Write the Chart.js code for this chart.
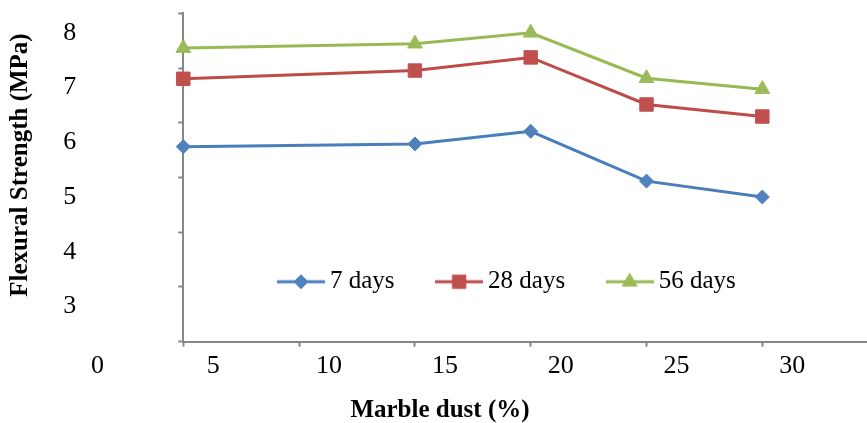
<!DOCTYPE html>
<html>
<head>
<meta charset="utf-8">
<script src="https://cdn.jsdelivr.net/npm/chart.js@4.4.1/dist/chart.umd.min.js"></script>
<style>
  html, body { margin: 0; padding: 0; background: #ffffff; }
  canvas { display: block; }
</style>
</head>
<body>
<canvas id="chart" width="867" height="423"></canvas>
<script>
// ---------- data ----------
const X_VALUES = [5, 15, 20, 25, 30];            // marble dust (%)
const SERIES_NAMES = ['7 days', '28 days', '56 days'];
const DAYS_7  = [5.92, 5.97, 6.20, 5.29, 5.00];
const DAYS_28 = [7.16, 7.31, 7.55, 6.69, 6.47];
const DAYS_56 = [7.72, 7.80, 8.00, 7.17, 6.97];
const X_TICKS = [0, 5, 10, 15, 20, 25, 30];
const Y_TICKS = [2, 3, 4, 5, 6, 7, 8];
const Y_TICK_LABELS = ['', '3', '4', '5', '6', '7', '8'];
const X_TITLE = 'Marble dust (%)';
const Y_TITLE = 'Flexural Strength (MPa)';

// ---------- styling ----------
const FONT = "'Liberation Serif', 'Times New Roman', serif";
const AXIS = '#878787';
const LINE_COLORS = ['#4a7ebb', '#be4b48', '#98b954'];
const MARKER_COLORS = ['#4f81bd', '#c0504d', '#9bbb59'];
const MARKERS = [
  { style: 'rectRot', radius: 7 },
  { style: 'rect', radius: 9.5 },
  { style: 'triangle', radius: 8.5 }
];
const LABEL_SHIFT = 0.356;   // tick marks sit above their labels in the reference

function makeIcon(i) {
  const c = document.createElement('canvas');
  c.width = 48; c.height = 20;
  const g = c.getContext('2d');
  g.strokeStyle = LINE_COLORS[i];
  g.lineWidth = 3;
  g.beginPath(); g.moveTo(0, 10); g.lineTo(48, 10); g.stroke();
  g.fillStyle = MARKER_COLORS[i];
  g.strokeStyle = MARKER_COLORS[i];
  g.lineWidth = 1;
  Chart.helpers.drawPoint(g, { pointStyle: MARKERS[i].style, radius: MARKERS[i].radius, borderWidth: 1, rotation: 0 }, 24, 10);
  return c;
}
const ICONS = [0, 1, 2].map(makeIcon);

const SERIES = [DAYS_7, DAYS_28, DAYS_56];

const placeLegend = {
  id: 'placeLegend',
  afterLayout(chart) {
    const lg = chart.legend;
    if (!lg) return;
    const pad = lg.options.labels.padding;
    const size = lg.options.labels.font.size;
    lg.left = 236.5;
    lg.top = 281.7 - size / 2 - pad;
    lg.right = chart.width;
    lg.bottom = lg.top + 2 * pad + size;
    lg.width = lg.right - lg.left;
    lg.height = lg.bottom - lg.top;
  }
};

new Chart(document.getElementById('chart'), {
  type: 'line',
  data: {
    datasets: SERIES.map((vals, i) => ({
      label: SERIES_NAMES[i],
      data: X_VALUES.map((x, j) => ({ x: x, y: vals[j] })),
      borderColor: LINE_COLORS[i],
      backgroundColor: MARKER_COLORS[i],
      pointBackgroundColor: MARKER_COLORS[i],
      pointBorderColor: MARKER_COLORS[i],
      pointStyle: MARKERS[i].style,
      pointRadius: MARKERS[i].radius,
      pointBorderWidth: 1,
      borderWidth: 3,
      tension: 0,
      fill: false,
      clip: false
    }))
  },
  options: {
    responsive: false,
    animation: false,
    events: [],
    layout: { autoPadding: false, padding: { top: 13.3, left: 13, right: 0, bottom: 0 } },
    scales: {
      x: {
        type: 'linear',
        position: 'bottom',
        min: 5,
        max: 34.52,
        afterBuildTicks: s => { s.ticks = X_TICKS.map(v => ({ value: v })); },
        afterFit: s => { s.height = 56.3; s.paddingLeft = 0; s.paddingRight = 0; s.paddingTop = 0; s.paddingBottom = 0; },
        border: { display: true, color: AXIS, width: 2 },
        grid: {
          display: true, drawOnChartArea: false, drawTicks: true,
          tickLength: 5, tickWidth: 2,
          tickColor: ctx => (ctx.tick && ctx.tick.value < 5) ? 'rgba(0,0,0,0)' : AXIS
        },
        ticks: {
          autoSkip: false, maxRotation: 0, minRotation: 0,
          labelOffset: 30, padding: 4, color: '#000',
          font: { family: FONT, size: 26 },
          callback: v => String(v)
        }
      },
      y: {
        type: 'linear',
        position: 'left',
        min: Y_TICKS[0] + LABEL_SHIFT,
        max: Y_TICKS[Y_TICKS.length - 1] + LABEL_SHIFT,
        afterBuildTicks: s => { s.ticks = Y_TICKS.map(v => ({ value: v + LABEL_SHIFT })); },
        afterFit: s => { s.width = 170.3; s.paddingLeft = 0; s.paddingRight = 0; s.paddingTop = 0; s.paddingBottom = 0; },
        border: { display: true, color: AXIS, width: 2 },
        grid: { display: true, drawOnChartArea: false, drawTicks: true, tickLength: 5, tickWidth: 2, tickColor: AXIS },
        ticks: {
          autoSkip: false, labelOffset: 19.5, padding: 102, color: '#000',
          font: { family: FONT, size: 26 },
          callback: (v, i) => Y_TICK_LABELS[i]
        },
        title: {
          display: true,
          text: '    ' + Y_TITLE,
          color: '#000',
          font: { family: FONT, size: 25, weight: 'bold', lineHeight: 1.2 },
          padding: { top: -7, bottom: 0 }
        }
      }
    },
    plugins: {
      tooltip: { enabled: false },
      title: {
        display: true, position: 'bottom', text: X_TITLE, color: '#000',
        font: { family: FONT, size: 25, weight: 'bold', lineHeight: 1 },
        padding: 0
      },
      legend: {
        display: true, position: 'top', align: 'start', maxHeight: 0.001,
        labels: {
          usePointStyle: true, pointStyleWidth: 33, padding: 48, color: '#000',
          font: { family: FONT, size: 25 },
          generateLabels: chart => Chart.defaults.plugins.legend.labels.generateLabels(chart)
            .map((it, i) => Object.assign(it, { pointStyle: ICONS[i], fontColor: '#000' }))
        }
      }
    }
  },
  plugins: [placeLegend]
});
</script>
</body>
</html>
